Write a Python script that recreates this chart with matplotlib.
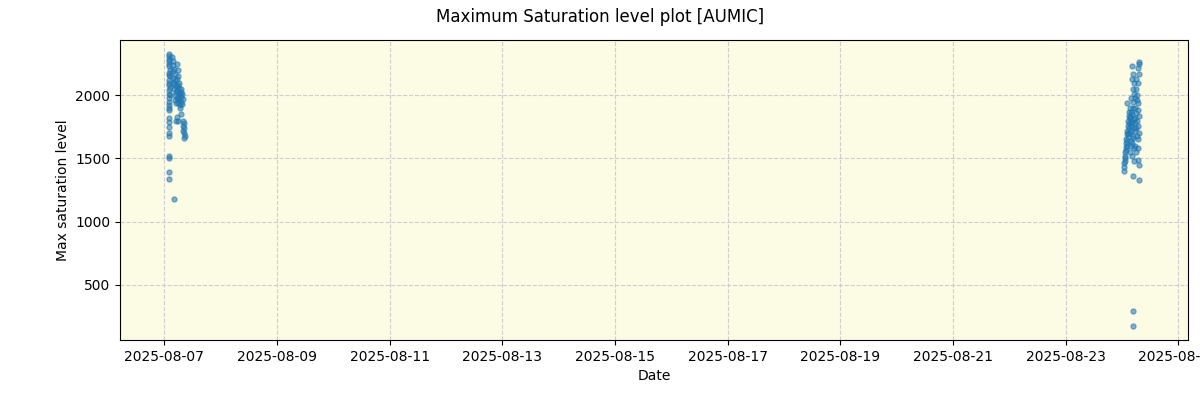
import numpy as np
import pandas as pd
import matplotlib
matplotlib.use('Agg')
import matplotlib.pyplot as plt
import matplotlib.dates as mdates

# hours after 2025-08-07 00:00 and max saturation level
hours_a = [1.0, 1.2, 1.1, 1.3, 1.4, 1.2, 1.5, 1.1, 1.3, 1.6, 1.2, 1.4, 1.0, 1.5, 1.3, 1.1, 1.6, 1.2, 1.4, 1.0,
           1.3, 1.1, 1.2, 1.0, 1.1, 1.3, 1.0, 1.1, 1.0, 1.2, 1.0, 3.3]
sat_a = [2330, 2310, 2290, 2270, 2250, 2230, 2200, 2180, 2160, 2150, 2120, 2100, 2080, 2060, 2040, 2010, 2000,
         1980, 1950, 1920, 1900, 1880, 1820, 1790, 1750, 1700, 1680, 1520, 1500, 1390, 1340, 1180]

hours_b = [2.6, 2.9, 3.1, 3.4, 2.8, 3.7, 3.0, 3.9, 2.7, 3.5, 4.1, 3.2, 4.3, 3.8, 4.4, 3.6, 4.0, 4.2]
sat_b = [2300, 2270, 2240, 2210, 2190, 2170, 2140, 2120, 2100, 2090, 2070, 2050, 2030, 2000, 1980, 1960, 1940, 1800]

hours_c = [4.6, 4.9, 5.1, 4.7, 5.4, 5.0, 5.6, 4.8, 5.3, 5.8, 5.2, 5.5, 4.9, 5.7, 5.9, 4.5, 5.1]
sat_c = [2250, 2200, 2150, 2130, 2100, 2080, 2060, 2040, 2020, 2000, 1980, 1960, 1940, 1920, 1900, 1830, 1800]

hours_d = [6.1, 6.4, 6.7, 6.2, 7.0, 6.5, 6.9, 6.3, 7.2, 7.5, 7.1, 7.6, 7.3, 7.7, 7.8, 7.6]
sat_d = [2050, 2030, 2010, 1990, 1970, 1950, 1930, 1850, 1800, 1780, 1760, 1740, 1720, 1700, 1680, 1660]

hours_e = [408.0, 408.2, 408.1, 408.4, 408.3, 408.6, 408.5, 408.9, 408.7, 409.1, 408.8, 409.3, 409.0, 409.6,
           409.2, 409.8, 409.4, 410.0, 409.7, 410.2, 409.9, 410.4, 410.1, 410.3, 410.5, 409.5]
sat_e = [1400, 1430, 1460, 1480, 1500, 1520, 1550, 1570, 1590, 1600, 1620, 1640, 1650, 1670, 1690, 1700, 1720,
         1740, 1760, 1780, 1800, 1820, 1840, 1870, 1900, 1940]

hours_f = [411.6, 411.8, 411.5, 412.2, 411.9, 412.4, 411.1, 411.7, 412.0, 410.9, 411.3, 410.7, 412.1, 411.0,
           411.4, 410.8, 412.3, 411.2, 410.6, 411.8, 412.0, 410.9, 411.5, 411.1, 412.4, 410.7, 411.3, 412.2,
           411.9, 411.7, 411.7]
sat_f = [2230, 2170, 2130, 2100, 2050, 2010, 1980, 1950, 1900, 1870, 1850, 1830, 1810, 1790, 1780, 1760, 1740,
         1720, 1700, 1680, 1660, 1640, 1620, 1600, 1580, 1550, 1520, 1480, 1360, 290, 170]

hours_g = [414.2, 414.4, 413.9, 414.3, 413.2, 414.0, 413.0, 413.6, 412.8, 413.4, 414.1, 412.6, 413.8, 413.1,
           414.5, 412.9, 413.5, 412.7, 414.0, 413.3, 412.6, 414.4, 413.7, 414.1, 412.9, 413.8, 413.2, 413.9,
           414.3, 414.6]
sat_g = [2260, 2250, 2220, 2170, 2130, 2100, 2050, 2000, 1980, 1960, 1940, 1900, 1880, 1860, 1840, 1820, 1800,
         1780, 1760, 1740, 1720, 1700, 1680, 1650, 1600, 1580, 1550, 1490, 1450, 1330]

start = pd.Timestamp('2025-08-07 00:48')
hours = hours_a + hours_b + hours_c + hours_d + hours_e + hours_f + hours_g
sat = sat_a + sat_b + sat_c + sat_d + sat_e + sat_f + sat_g
dates = start + pd.to_timedelta(hours, unit='h')

fig = plt.figure(figsize=(12, 4), dpi=100)
ax = fig.add_axes([0.1, 0.15, 0.89, 0.75])
ax.set_facecolor('#fcfbe3')
ax.scatter(dates, sat, s=13, color='#1f77b4', alpha=0.55)
ax.grid(True, linestyle='--', color='#c8c8d2', alpha=0.9)
ax.set_axisbelow(True)

ax.xaxis.set_major_locator(mdates.DayLocator(interval=2, bymonthday=range(1, 32, 2)))
ax.xaxis.set_major_formatter(mdates.DateFormatter('%Y-%m-%d'))
ax.set_xlabel('Date')
ax.set_ylabel('Max saturation level')
fig.suptitle('Maximum Saturation level plot [AUMIC]', y=0.98, fontsize=12)

fig.savefig('out.png')
